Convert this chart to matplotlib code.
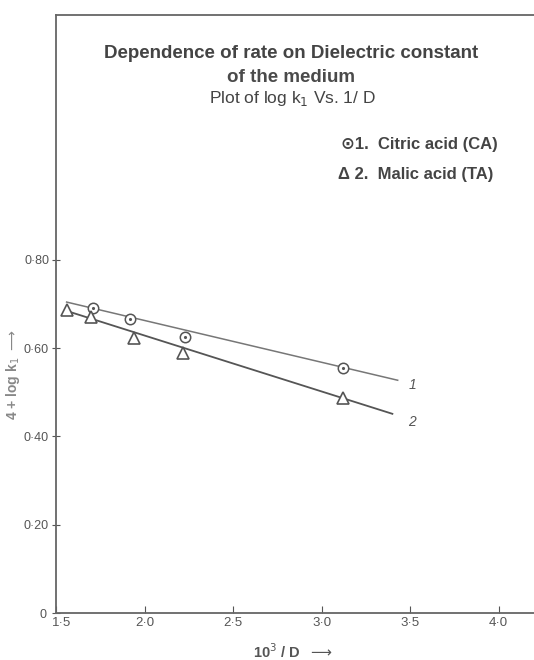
import matplotlib.pyplot as plt
from matplotlib.transforms import ScaledTranslation

plt.rcParams['font.family'] = ['Liberation Sans', 'DejaVu Sans']

# Citric acid (CA) - circles
ca_x = [1.71, 1.92, 2.23, 3.12]
ca_y = [0.690, 0.665, 0.625, 0.555]
# Malic acid (TA) - triangles
ta_x = [1.56, 1.70, 1.94, 2.22, 3.12]
ta_y = [0.685, 0.670, 0.623, 0.589, 0.487]
# hand drawn best-fit lines (end points)
fit1_x = [1.56, 3.43]
fit1_y = [0.704, 0.527]
fit2_x = [1.56, 3.40]
fit2_y = [0.684, 0.451]

xticks = [1.5, 2.0, 2.5, 3.0, 3.5, 4.0]
xticklabels = ['1·5', '2·0', '2·5', '3·0', '3·5', '4·0']
yticks = [0, 0.2, 0.4, 0.6, 0.8]
yticklabels = ['0', '0·20', '0·40', '0·60', '0·80']

ink = '#555555'
fig = plt.figure(figsize=(5.34, 6.6), dpi=100)
ax = fig.add_axes([56/534, 47/660, 478/534, 598/660])

ax.plot(fit1_x, fit1_y, color='#777777', lw=1.1)
ax.plot(fit2_x, fit2_y, color='#555555', lw=1.3)
ax.plot(ca_x, ca_y, 'o', ms=7.5, mfc='white', mec=ink, mew=1.1)
ax.plot(ca_x, ca_y, '.', ms=2.5, color=ink)
ax.plot(ta_x, ta_y, '^', ms=8.5, mfc='white', mec=ink, mew=1.2)

ax.text(3.49, 0.516, '1', color=ink, fontsize=10, style='italic', va='center')
ax.text(3.49, 0.432, '2', color=ink, fontsize=10, style='italic', va='center')

ax.set_xlim(1.5, 4.2)
ax.set_ylim(0, 1.354)
ax.set_xticks(xticks)
ax.set_xticklabels(xticklabels)
ax.set_yticks(yticks)
ax.set_yticklabels(yticklabels)
ax.tick_params(axis='x', direction='in', length=5, color=ink, labelsize=9.5,
               labelcolor=ink, pad=3)
ax.tick_params(axis='y', direction='inout', length=6, color=ink, labelsize=9,
               labelcolor=ink, pad=2)
for s in ['left', 'top', 'bottom']:
    ax.spines[s].set_color('#666666')
    ax.spines[s].set_linewidth(1.3)
ax.spines['right'].set_visible(False)

# nudge origin labels apart like the hand drawn axes
lbl0 = ax.get_xticklabels()[0]
lbl0.set_transform(lbl0.get_transform() + ScaledTranslation(6/100, 0, fig.dpi_scale_trans))
ylbl0 = ax.get_yticklabels()[0]
ylbl0.set_transform(ylbl0.get_transform() + ScaledTranslation(-3/100, 0, fig.dpi_scale_trans))

fig.text(291/534, 1 - 54/660, 'Dependence of rate on Dielectric constant',
         ha='center', va='center', fontsize=13.5, fontweight='bold', color='#444444')
fig.text(291/534, 1 - 77/660, 'of the medium',
         ha='center', va='center', fontsize=13.5, fontweight='bold', color='#4a4a4a')
fig.text(292/534, 1 - 98/660, 'Plot of log k$_1$ Vs. 1/ D',
         ha='center', va='center', fontsize=12.5, color='#444444')

fig.text(341/534, 1 - 145/660, '⊙1.  Citric acid (CA)', ha='left', va='center',
         fontsize=12, fontweight='bold', color='#444444')
fig.text(338/534, 1 - 175/660, 'Δ 2.  Malic acid (TA)', ha='left', va='center',
         fontsize=12, fontweight='bold', color='#444444')

fig.text(13/534, 1 - 375/660, r'4 + log k$_1$ $\longrightarrow$', rotation=90,
         ha='center', va='center', fontsize=10, fontweight='bold', color='#888888')
fig.text(293/534, 1 - 652/660, r'10$^3$ / D  $\longrightarrow$', ha='center', va='center',
         fontsize=10.5, fontweight='bold', color='#555555')

fig.savefig('out.png', dpi=100)
